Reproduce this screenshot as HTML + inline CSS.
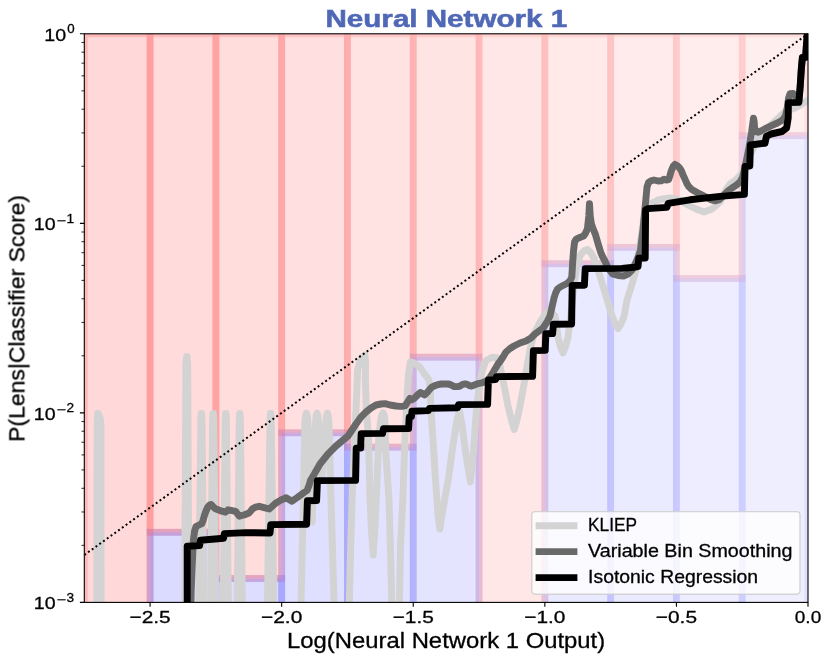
<!DOCTYPE html>
<html lang="en">
<head>
<meta charset="utf-8">
<title>Neural Network 1</title>
<style>
html,body{margin:0;padding:0;background:#ffffff;}
body{width:830px;height:661px;overflow:hidden;position:relative;font-family:"Liberation Sans",sans-serif;}
svg text{font-family:"Liberation Sans",sans-serif;}
</style>
</head>
<body>
<svg width="830" height="661" viewBox="0 0 830 661" style="position:absolute;left:0;top:0;display:block">
<defs><clipPath id="ax"><rect x="84.3" y="33.8" width="723.70" height="568.60"/></clipPath></defs>
<rect x="0" y="0" width="830" height="661" fill="#ffffff"/>
<g clip-path="url(#ax)">
<g><rect x="84.30" y="33.80" width="65.79" height="700.00" fill="#ff0000" stroke="#ff0000" fill-opacity="0.15" stroke-opacity="0.15" stroke-width="6.94"/><rect x="150.09" y="532.30" width="65.79" height="700.00" fill="#0000ff" stroke="#0000ff" fill-opacity="0.142" stroke-opacity="0.142" stroke-width="6.94"/><rect x="150.09" y="33.80" width="65.79" height="498.50" fill="#ff0000" stroke="#ff0000" fill-opacity="0.142" stroke-opacity="0.142" stroke-width="6.94"/><rect x="215.88" y="578.50" width="65.79" height="700.00" fill="#0000ff" stroke="#0000ff" fill-opacity="0.134" stroke-opacity="0.134" stroke-width="6.94"/><rect x="215.88" y="33.80" width="65.79" height="544.70" fill="#ff0000" stroke="#ff0000" fill-opacity="0.134" stroke-opacity="0.134" stroke-width="6.94"/><rect x="281.67" y="432.80" width="65.79" height="700.00" fill="#0000ff" stroke="#0000ff" fill-opacity="0.124" stroke-opacity="0.124" stroke-width="6.94"/><rect x="281.67" y="33.80" width="65.79" height="399.00" fill="#ff0000" stroke="#ff0000" fill-opacity="0.124" stroke-opacity="0.124" stroke-width="6.94"/><rect x="347.46" y="447.20" width="65.79" height="700.00" fill="#0000ff" stroke="#0000ff" fill-opacity="0.114" stroke-opacity="0.114" stroke-width="6.94"/><rect x="347.46" y="33.80" width="65.79" height="413.40" fill="#ff0000" stroke="#ff0000" fill-opacity="0.114" stroke-opacity="0.114" stroke-width="6.94"/><rect x="413.25" y="357.20" width="65.79" height="700.00" fill="#0000ff" stroke="#0000ff" fill-opacity="0.104" stroke-opacity="0.104" stroke-width="6.94"/><rect x="413.25" y="33.80" width="65.79" height="323.40" fill="#ff0000" stroke="#ff0000" fill-opacity="0.104" stroke-opacity="0.104" stroke-width="6.94"/><rect x="479.05" y="33.80" width="65.79" height="700.00" fill="#ff0000" stroke="#ff0000" fill-opacity="0.095" stroke-opacity="0.095" stroke-width="6.94"/><rect x="544.84" y="263.70" width="65.79" height="700.00" fill="#0000ff" stroke="#0000ff" fill-opacity="0.087" stroke-opacity="0.087" stroke-width="6.94"/><rect x="544.84" y="33.80" width="65.79" height="229.90" fill="#ff0000" stroke="#ff0000" fill-opacity="0.087" stroke-opacity="0.087" stroke-width="6.94"/><rect x="610.63" y="247.40" width="65.79" height="700.00" fill="#0000ff" stroke="#0000ff" fill-opacity="0.079" stroke-opacity="0.079" stroke-width="6.94"/><rect x="610.63" y="33.80" width="65.79" height="213.60" fill="#ff0000" stroke="#ff0000" fill-opacity="0.079" stroke-opacity="0.079" stroke-width="6.94"/><rect x="676.42" y="278.50" width="65.79" height="700.00" fill="#0000ff" stroke="#0000ff" fill-opacity="0.072" stroke-opacity="0.072" stroke-width="6.94"/><rect x="676.42" y="33.80" width="65.79" height="244.70" fill="#ff0000" stroke="#ff0000" fill-opacity="0.072" stroke-opacity="0.072" stroke-width="6.94"/><rect x="742.21" y="135.70" width="65.79" height="700.00" fill="#0000ff" stroke="#0000ff" fill-opacity="0.066" stroke-opacity="0.066" stroke-width="6.94"/><rect x="742.21" y="33.80" width="65.79" height="101.90" fill="#ff0000" stroke="#ff0000" fill-opacity="0.066" stroke-opacity="0.066" stroke-width="6.94"/></g>
<g fill="none" stroke="#d3d3d3" stroke-width="6.94" stroke-linejoin="round" stroke-linecap="butt">
<path d="M96.8,620.0 L97.2,422.0 L97.7,413.5 L98.4,413.6 L99.6,417.0 L100.4,419.0 L100.9,424.0 L101.1,620.0"/>
<path d="M184.7,620.0 L185.9,364.0 L186.6,356.5 L187.0,356.5 L187.7,364.0 L188.9,620.0"/>
<path d="M198.7,620.0 L200.8,421.0 L201.2,413.5 L201.6,413.5 L202.0,421.0 L204.1,620.0"/>
<path d="M210.5,620.0 L212.6,421.0 L213.0,413.5 L213.4,413.5 L213.8,421.0 L215.9,620.0"/>
<path d="M223.1,620.0 L225.2,421.0 L225.6,413.5 L226.0,413.5 L226.4,421.0 L228.5,620.0"/>
<path d="M237.1,620.0 L239.2,421.0 L239.6,413.5 L240.0,413.5 L240.4,421.0 L242.5,620.0"/>
<path d="M267.2,620.0 L270.0,421.0 L270.4,413.5 L270.8,413.5 L271.2,421.0 L274.0,620.0"/>
<path d="M300.6,620.0 L303.4,500.0 L304.8,423.0 L305.6,415.5 L306.4,413.0 L307.2,415.5 L308.0,423.0 L309.6,470.0 L312.0,522.0 L314.4,470.0 L315.4,423.0 L316.2,415.5 L317.0,413.0 L317.8,415.5 L318.6,423.0 L320.4,455.0 L322.0,476.0 L323.8,455.0 L325.8,423.0 L326.6,415.5 L327.4,413.0 L328.2,415.5 L329.0,423.0 L331.0,500.0 L334.6,620.0"/>
<path d="M349.0,620.0 L349.4,601.0 L350.7,546.0 L352.4,490.0 L355.2,430.0 L357.0,385.0 L357.6,369.5 L359.6,363.0 L362.6,357.2 L365.0,355.2 L365.6,362.0 L365.4,380.0 L366.4,410.0 L368.6,440.0 L370.0,498.0 L371.4,530.0 L373.2,555.0 L374.8,530.0 L376.3,498.0 L378.7,440.0 L380.4,422.0 L381.8,415.0 L383.0,412.8 L384.2,415.0 L385.0,422.0 L385.6,450.0 L388.9,498.0 L390.4,546.0 L391.7,601.0 L392.0,620.0"/>
<path d="M399.3,620.0 L399.5,601.0 L400.5,546.0 L402.9,498.0 L404.9,440.0 L406.4,410.0 L408.4,375.0 L410.4,362.0 L413.0,362.6 L416.0,364.4 L418.5,366.0 L420.5,368.0 L423.0,372.0 L425.0,374.6 L427.0,377.0 L429.0,380.4 L430.2,390.0 L431.0,410.0 L433.0,440.0 L435.5,480.0 L438.0,515.0 L439.8,529.0 L442.0,515.0 L445.5,495.0 L448.5,478.0 L453.0,445.0 L457.0,420.0 L459.5,410.0 L462.0,425.0 L466.0,455.0 L470.4,482.0 L473.6,450.0 L476.4,410.0 L479.4,385.0 L482.4,370.0 L486.0,360.5 L492.0,357.2 L497.0,357.6 L499.6,364.0 L502.0,376.0 L505.0,390.0 L508.0,406.0 L511.5,420.0 L514.2,429.5 L517.0,420.0 L520.0,406.0 L523.0,390.0 L526.0,372.0 L530.0,350.0 L534.0,334.0 L540.0,322.0 L546.0,313.0 L550.0,311.0 L555.0,316.0 L558.0,337.0 L560.5,347.0 L563.0,352.8 L565.5,347.0 L568.0,337.0 L570.5,318.0 L574.0,285.0 L577.5,262.0 L581.0,254.0 L584.5,250.5 L587.6,249.5 L591.0,253.0 L594.4,259.0 L600.0,276.0 L606.0,296.0 L612.0,315.6 L615.5,325.0 L618.0,328.4 L620.5,325.0 L624.0,316.6 L627.0,300.0 L632.0,284.0 L636.0,270.0 L640.0,244.0 L644.0,218.0 L648.0,206.0 L652.0,203.0 L658.0,200.0 L664.0,198.6 L670.0,198.0 L676.0,198.8 L680.0,200.0 L688.0,205.0 L696.0,209.0 L704.0,212.0 L712.0,209.0 L720.0,202.0 L726.0,190.0 L730.0,184.0 L736.0,180.0 L742.0,173.0 L748.0,159.0 L756.0,143.0 L765.0,131.0 L772.0,124.0 L778.4,118.0 L786.0,111.0 L795.0,108.0 L807.0,101.0 L814.0,97.0"/>
</g>
<path d="M190.6,620.0 L191.2,590.0 L192.2,566.0 L193.4,540.0 L194.6,531.0 L196.0,526.5 L199.0,525.0 L201.9,523.6 L203.2,520.0 L204.4,515.5 L206.0,511.0 L207.8,507.0 L209.6,505.0 L211.1,504.4 L213.0,506.6 L215.4,508.8 L220.0,510.6 L225.5,512.2 L226.8,510.8 L228.0,509.8 L231.0,510.4 L235.6,511.3 L237.6,514.0 L239.3,516.2 L244.0,515.0 L249.0,513.0 L250.8,511.0 L252.4,508.8 L255.6,507.2 L259.2,506.3 L264.0,507.6 L269.3,509.0 L272.6,506.0 L276.0,502.9 L281.0,500.0 L286.2,497.8 L289.0,499.4 L292.0,501.2 L296.6,498.0 L301.3,494.5 L304.4,492.2 L307.2,490.2 L309.0,485.6 L310.6,480.0 L313.4,475.6 L316.0,471.0 L320.0,464.0 L324.0,459.0 L328.0,454.0 L332.0,450.0 L336.0,446.0 L342.0,441.0 L348.0,436.0 L352.0,430.0 L356.0,424.0 L361.0,417.0 L366.0,412.0 L371.0,408.0 L376.0,405.0 L381.0,404.0 L385.0,403.6 L390.0,405.0 L396.0,406.0 L400.0,406.4 L403.0,406.2 L405.3,405.6 L407.6,402.0 L409.9,398.4 L411.9,399.8 L414.0,398.6 L417.0,395.5 L420.5,392.5 L422.6,393.6 L424.5,395.0 L427.0,392.6 L429.5,389.6 L431.8,387.2 L435.0,385.6 L438.4,384.5 L441.6,384.0 L445.0,383.9 L448.0,384.0 L450.3,384.5 L452.4,385.6 L454.3,386.5 L457.0,386.6 L459.6,386.2 L462.0,384.8 L464.2,383.9 L466.0,384.0 L467.5,384.5 L469.6,385.6 L471.5,386.1 L475.0,384.8 L478.2,383.6 L481.6,382.8 L484.8,381.9 L487.6,380.0 L490.1,377.2 L492.2,374.0 L494.1,370.6 L496.0,367.4 L498.0,364.0 L500.0,361.5 L503.0,357.0 L506.0,352.0 L510.0,348.5 L514.0,346.0 L520.0,343.0 L526.0,341.0 L531.0,338.0 L535.0,334.0 L539.0,331.0 L543.0,328.0 L547.0,322.0 L550.0,316.0 L552.0,307.0 L554.0,298.0 L555.6,293.0 L557.5,289.0 L561.0,286.5 L564.0,285.0 L567.0,283.5 L570.0,281.0 L571.8,277.0 L572.7,261.7 L573.6,250.0 L574.6,242.0 L576.0,239.5 L578.0,238.2 L581.0,237.0 L583.6,236.0 L585.6,233.0 L587.4,229.0 L588.8,216.0 L589.5,203.8 L590.2,216.0 L591.4,224.0 L592.8,228.0 L595.4,234.4 L598.0,243.5 L600.8,252.6 L602.5,256.5 L604.4,260.0 L608.0,268.0 L612.6,274.0 L618.0,275.5 L623.5,276.0 L628.0,274.0 L632.0,270.0 L636.0,262.0 L638.5,256.0 L640.5,250.0 L643.0,230.0 L644.6,212.0 L646.0,198.0 L647.0,187.0 L648.6,182.4 L651.0,180.8 L654.0,180.0 L658.0,181.0 L661.3,180.9 L664.0,179.2 L666.4,180.0 L668.6,179.6 L669.8,176.0 L671.4,170.6 L673.2,166.2 L675.0,164.4 L677.6,166.0 L679.6,168.0 L681.3,170.6 L683.0,175.0 L684.9,179.0 L686.6,183.0 L688.5,186.3 L691.0,188.8 L694.0,190.8 L697.6,192.8 L701.2,194.6 L706.0,197.0 L710.6,199.6 L715.7,200.8 L719.4,199.6 L723.0,196.0 L728.0,191.0 L732.0,188.0 L736.0,185.4 L740.0,182.0 L742.6,177.0 L744.8,168.6 L747.0,157.6 L749.0,147.4 L751.6,132.0 L753.0,122.0 L753.5,118.2 L754.2,122.0 L754.6,128.0 L756.0,131.6 L758.0,132.2 L761.0,131.0 L766.8,127.8 L772.0,125.4 L777.4,123.0 L782.7,120.0 L785.4,116.0 L787.2,108.0 L788.6,98.0 L790.0,93.8 L793.0,93.4 L795.0,96.0 L797.0,100.0 L799.0,101.0 L800.2,86.3 L801.4,68.0 L802.4,57.4 L805.6,57.2 L807.4,33.0" fill="none" stroke="#696969" stroke-width="6.94" stroke-linejoin="round" stroke-linecap="butt"/>
<path d="M84.30,555.02 L808.00,33.80" fill="none" stroke="#000" stroke-width="2.0" stroke-dasharray="1.95 2.69"/>
<path d="M187.2,620.0 L187.2,546.2 L199.6,545.6 L200.4,540.2 L223.6,538.2 L224.4,533.6 L246.0,532.6 L270.0,533.0 L270.8,524.6 L306.6,524.2 L307.4,500.8 L316.6,500.6 L317.4,480.6 L355.6,480.4 L356.2,448.2 L360.6,448.0 L361.2,433.6 L382.6,433.4 L383.4,428.8 L408.6,428.6 L409.2,417.2 L411.4,416.6 L412.0,411.2 L428.4,410.6 L429.4,408.4 L457.6,407.8 L458.6,404.6 L487.6,404.4 L488.4,380.0 L495.6,379.6 L496.4,376.6 L532.6,376.4 L533.4,350.6 L545.2,350.4 L545.8,333.8 L552.6,333.6 L553.4,324.2 L571.6,324.0 L572.2,285.4 L584.4,285.2 L585.2,268.6 L622.0,268.4 L634.0,267.2 L638.0,266.6 L638.8,258.2 L645.2,258.0 L645.6,209.8 L648.0,208.6 L666.8,207.4 L668.2,203.4 L690.0,199.8 L720.0,196.4 L744.4,194.4 L745.0,166.4 L749.8,166.0 L750.4,145.0 L765.0,143.2 L766.4,136.4 L771.0,134.0 L782.0,131.5 L786.6,128.0 L788.2,118.0 L788.4,102.6 L798.8,102.4 L800.2,86.3 L801.4,68.0 L802.4,57.4 L805.6,57.2 L806.4,45.0 L807.4,33.0" fill="none" stroke="#000000" stroke-width="6.94" stroke-linejoin="round" stroke-linecap="butt"/>
</g>
<rect x="531.8" y="511.6" width="268.2" height="82.6" rx="3.4" ry="3.4" fill="#ffffff" fill-opacity="0.8" stroke="#cccccc" stroke-opacity="0.8" stroke-width="1.4"/>
<path d="M535.6,525.7 L577.4,525.7" stroke="#d3d3d3" stroke-width="6.94" fill="none"/>
<path d="M535.6,551.6 L577.4,551.6" stroke="#696969" stroke-width="6.94" fill="none"/>
<path d="M535.6,577.6 L577.4,577.6" stroke="#000000" stroke-width="6.94" fill="none"/>
<rect x="84.3" y="33.8" width="723.70" height="568.60" fill="none" stroke="#000" stroke-width="1.1"/>
<path d="M150.09,602.4 v4.4 M281.67,602.4 v4.4 M413.25,602.4 v4.4 M544.84,602.4 v4.4 M676.42,602.4 v4.4 M808.00,602.4 v4.4 M84.3,33.80 h-4.4 M84.3,223.33 h-4.4 M84.3,412.87 h-4.4 M84.3,602.40 h-4.4" stroke="#000" stroke-width="1.1" fill="none"/>
<path d="M84.3,166.28 h-2.8 M84.3,132.90 h-2.8 M84.3,109.22 h-2.8 M84.3,90.86 h-2.8 M84.3,75.85 h-2.8 M84.3,63.16 h-2.8 M84.3,52.17 h-2.8 M84.3,42.47 h-2.8 M84.3,355.81 h-2.8 M84.3,322.44 h-2.8 M84.3,298.76 h-2.8 M84.3,280.39 h-2.8 M84.3,265.38 h-2.8 M84.3,252.69 h-2.8 M84.3,241.70 h-2.8 M84.3,232.01 h-2.8 M84.3,545.34 h-2.8 M84.3,511.97 h-2.8 M84.3,488.29 h-2.8 M84.3,469.92 h-2.8 M84.3,454.91 h-2.8 M84.3,442.23 h-2.8 M84.3,431.23 h-2.8 M84.3,421.54 h-2.8" stroke="#000" stroke-width="0.85" fill="none"/>
<g opacity="0.999" stroke="#000" stroke-width="0.3">
<text x="446.3" y="26.6" font-family="Liberation Sans, sans-serif" font-size="24.6" font-weight="700" fill="#5068b6" stroke="#5068b6" stroke-width="0.55" text-anchor="middle" textLength="241.6" lengthAdjust="spacingAndGlyphs">Neural Network 1</text>
<text x="446.1" y="648.4" font-family="Liberation Sans, sans-serif" font-size="21.4" fill="#000" text-anchor="middle" textLength="318.2" lengthAdjust="spacingAndGlyphs">Log(Neural Network 1 Output)</text>
<text transform="translate(24.4,318.4) rotate(-90)" font-family="Liberation Sans, sans-serif" font-size="21.4" fill="#000" text-anchor="middle" textLength="247.0" lengthAdjust="spacingAndGlyphs">P(Lens|Classifier Score)</text>
<text x="150.09" y="623.4" font-family="Liberation Sans, sans-serif" font-size="17.1" fill="#000" text-anchor="middle" textLength="41.2" lengthAdjust="spacingAndGlyphs">−2.5</text>
<text x="281.67" y="623.4" font-family="Liberation Sans, sans-serif" font-size="17.1" fill="#000" text-anchor="middle" textLength="41.2" lengthAdjust="spacingAndGlyphs">−2.0</text>
<text x="413.25" y="623.4" font-family="Liberation Sans, sans-serif" font-size="17.1" fill="#000" text-anchor="middle" textLength="41.2" lengthAdjust="spacingAndGlyphs">−1.5</text>
<text x="544.84" y="623.4" font-family="Liberation Sans, sans-serif" font-size="17.1" fill="#000" text-anchor="middle" textLength="41.2" lengthAdjust="spacingAndGlyphs">−1.0</text>
<text x="676.42" y="623.4" font-family="Liberation Sans, sans-serif" font-size="17.1" fill="#000" text-anchor="middle" textLength="41.2" lengthAdjust="spacingAndGlyphs">−0.5</text>
<text x="808.00" y="623.4" font-family="Liberation Sans, sans-serif" font-size="17.1" fill="#000" text-anchor="middle" textLength="26.4" lengthAdjust="spacingAndGlyphs">0.0</text>
<text x="44.3" y="40.50" font-family="Liberation Sans, sans-serif" font-size="17.3" fill="#000" textLength="21.8" lengthAdjust="spacingAndGlyphs">10</text>
<text x="67.3" y="33.40" font-family="Liberation Sans, sans-serif" font-size="12.2" fill="#000" textLength="7.4" lengthAdjust="spacingAndGlyphs">0</text>
<text x="33.8" y="230.03" font-family="Liberation Sans, sans-serif" font-size="17.3" fill="#000" textLength="21.8" lengthAdjust="spacingAndGlyphs">10</text>
<text x="56.6" y="224.63" font-family="Liberation Sans, sans-serif" font-size="12.2" fill="#000" textLength="9.4" lengthAdjust="spacingAndGlyphs">−</text>
<text x="66.5" y="222.93" font-family="Liberation Sans, sans-serif" font-size="12.2" fill="#000" textLength="7.6" lengthAdjust="spacingAndGlyphs">1</text>
<text x="33.8" y="419.57" font-family="Liberation Sans, sans-serif" font-size="17.3" fill="#000" textLength="21.8" lengthAdjust="spacingAndGlyphs">10</text>
<text x="56.6" y="414.17" font-family="Liberation Sans, sans-serif" font-size="12.2" fill="#000" textLength="9.4" lengthAdjust="spacingAndGlyphs">−</text>
<text x="66.5" y="412.47" font-family="Liberation Sans, sans-serif" font-size="12.2" fill="#000" textLength="7.6" lengthAdjust="spacingAndGlyphs">2</text>
<text x="33.8" y="609.10" font-family="Liberation Sans, sans-serif" font-size="17.3" fill="#000" textLength="21.8" lengthAdjust="spacingAndGlyphs">10</text>
<text x="56.6" y="603.70" font-family="Liberation Sans, sans-serif" font-size="12.2" fill="#000" textLength="9.4" lengthAdjust="spacingAndGlyphs">−</text>
<text x="66.5" y="602.00" font-family="Liberation Sans, sans-serif" font-size="12.2" fill="#000" textLength="7.6" lengthAdjust="spacingAndGlyphs">3</text>
<text x="588.1" y="531.3" font-family="Liberation Sans, sans-serif" font-size="17.9" fill="#000" textLength="49.0" lengthAdjust="spacingAndGlyphs">KLIEP</text>
<text x="588.1" y="557.3" font-family="Liberation Sans, sans-serif" font-size="17.9" fill="#000" textLength="204.4" lengthAdjust="spacingAndGlyphs">Variable Bin Smoothing</text>
<text x="588.1" y="583.3" font-family="Liberation Sans, sans-serif" font-size="17.9" fill="#000" textLength="170.0" lengthAdjust="spacingAndGlyphs">Isotonic Regression</text>
</g>
</svg>
</body>
</html>
